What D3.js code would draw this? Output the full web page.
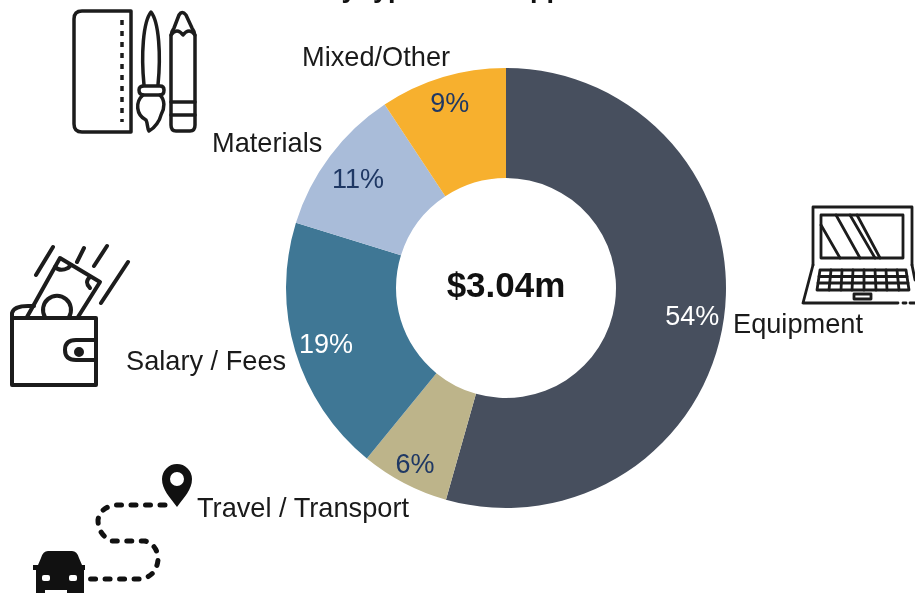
<!DOCTYPE html>
<html>
<head>
<meta charset="utf-8">
<script src="https://cdn.jsdelivr.net/npm/d3@7"></script>
<style>
  html, body { margin: 0; padding: 0; background: #fff; overflow: hidden; }
  svg { display: block; filter: blur(0.5px); font-family: "Liberation Sans", Arial, sans-serif; }
  .icon { fill: none; stroke: #1c1c1c; stroke-width: 3.5; stroke-linejoin: round; stroke-linecap: round; }
</style>
</head>
<body>
<script>
// chart values
var categories = ["Equipment", "Travel / Transport", "Salary / Fees", "Materials", "Mixed/Other"];
var shares = [54.4, 6.5, 18.9, 10.9, 9.3];
var pctLabels = ["54%", "6%", "19%", "11%", "9%"];
var total = "$3.04m";
var titleStart = "by type of";
var titleEnd = "support";

// look of the slices and labels
var colors = ["#474f5e", "#bdb48a", "#3f7795", "#a9bcd9", "#f7b02e"];
var pctColors = ["#ffffff", "#1f3864", "#ffffff", "#1f3864", "#1f3864"];
var pctRadius = [188, 197, 188, 185, 195];
var labelX = [733, 197, 126, 212, 302];
var labelY = [333, 517, 370, 152, 66];

var width = 915, height = 593;
var cx = 506, cy = 288, outer = 220, inner = 110;

var svg = d3.select("body").append("svg")
    .attr("width", width)
    .attr("height", height);

// title is cut off by the top of the picture, only the descenders show
var titleText = svg.append("text")
    .attr("x", 325)
    .attr("y", -3)
    .attr("font-size", 27)
    .attr("font-weight", "bold")
    .attr("fill", "#111");
titleText.append("tspan").text(titleStart);
titleText.append("tspan").attr("dx", 46).text(titleEnd);

// donut
var pie = d3.pie().sort(null).value(function(d) { return d; });
var arc = d3.arc().innerRadius(inner).outerRadius(outer);
var arcs = pie(shares);

var chart = svg.append("g")
    .attr("transform", "translate(" + cx + "," + cy + ")");

chart.selectAll(".slice")
    .data(arcs)
    .enter()
    .append("path")
    .classed("slice", true)
    .attr("d", arc)
    .attr("fill", function(d, i) { return colors[i]; });

chart.selectAll(".pct")
    .data(arcs)
    .enter()
    .append("text")
    .classed("pct", true)
    .attr("transform", function(d, i) {
        var c = d3.arc().innerRadius(pctRadius[i]).outerRadius(pctRadius[i]).centroid(d);
        return "translate(" + c[0] + "," + c[1] + ")";
    })
    .attr("dy", "0.4em")
    .attr("text-anchor", "middle")
    .attr("font-size", 27)
    .attr("fill", function(d, i) { return pctColors[i]; })
    .text(function(d, i) { return pctLabels[i]; });

chart.append("text")
    .attr("y", 9)
    .attr("x", 0)
    .attr("text-anchor", "middle")
    .attr("font-size", 35)
    .attr("font-weight", "bold")
    .attr("fill", "#111")
    .text(total);

// category labels
svg.selectAll(".cat")
    .data(categories)
    .enter()
    .append("text")
    .classed("cat", true)
    .attr("x", function(d, i) { return labelX[i]; })
    .attr("y", function(d, i) { return labelY[i]; })
    .attr("font-size", 27.2)
    .attr("fill", "#1a1a1a")
    .text(function(d) { return d; });

// ---- icons ----

// ruler, brush, pencil
var mat = svg.append("g").classed("icon", true);
mat.append("path").attr("d", "M131,11H82Q74,11 74,19V124Q74,132 82,132H131Z");
mat.append("path").attr("d", "M122,20V122").attr("stroke-dasharray", "5 6").style("stroke-linecap", "butt");
mat.append("path").attr("d", "M144,85C141,55 143,22 151,12C159,22 161,55 158,85");
mat.append("path").attr("d", "M144,86H160Q164,86 164,90Q164,95 160,95H144Q139,95 139,90Q139,86 144,86Z");
mat.append("path").attr("d", "M143,95C135,102 136,115 146,120C148,124 147,128 149,131C155,128 160,120 161,115C165,108 165,100 160,95");
mat.append("path").attr("d", "M171,125V36Q171,32 174,28L179,15Q182,10 186,15L192,28Q195,32 195,36V125Q195,131 190,131H176Q171,131 171,125Z");
mat.append("path").attr("d", "M171,35Q177,27 183,35Q189,27 195,35");
mat.append("path").attr("d", "M171,102H195M171,115H195");

// wallet with banknote
var wal = svg.append("g").classed("icon", true).style("stroke-width", 4);
wal.append("path").attr("d", "M12,318H96V385H12Z");
wal.append("path").attr("d", "M12,318V313Q14,306 28,306H34");
wal.append("path").attr("d", "M27,317L60,258L100,282L78,317");
wal.append("path").attr("d", "M45,317A14,14 0 1 1 69,317");
wal.append("path").attr("d", "M55,267Q60,272 68,268Q70,266 71,265");
wal.append("path").attr("d", "M90,277Q84,282 90,288");
wal.append("path").attr("d", "M96,340H76Q65,340 65,350Q65,360 76,360H96");
wal.append("circle").attr("cx", 79).attr("cy", 352).attr("r", 3).attr("fill", "#1c1c1c");
wal.append("path").attr("d", "M36,275L53,247M77,262L84,248M94,266L107,246M101,303L128,262");

// pin, dotted route, car
var trv = svg.append("g");
trv.append("path")
    .attr("fill", "#111")
    .attr("fill-rule", "evenodd")
    .attr("d", "M177,507C170,497 162,490 162,479A15,15 0 0 1 192,479C192,490 184,497 177,507ZM177,472A7,7 0 1 0 177,486A7,7 0 1 0 177,472Z");
trv.append("path")
    .attr("fill", "none")
    .attr("stroke", "#111")
    .attr("stroke-width", 5)
    .attr("stroke-linecap", "round")
    .attr("stroke-dasharray", "5 9.5")
    .attr("d", "M165,505H116Q100,507 98,520Q98,535 112,541H145Q158,545 158,560Q156,577 140,579H88");
trv.append("path")
    .attr("fill", "#111")
    .attr("d", "M48,551H72Q77,551 79,558L82,565H85V570H84V593H36V570H33V565H38L41,558Q43,551 48,551Z");
trv.append("rect").attr("x", 42).attr("y", 575).attr("width", 8).attr("height", 6).attr("rx", 2).attr("fill", "#fff");
trv.append("rect").attr("x", 69).attr("y", 575).attr("width", 8).attr("height", 6).attr("rx", 2).attr("fill", "#fff");
trv.append("rect").attr("x", 45).attr("y", 590).attr("width", 22).attr("height", 3).attr("fill", "#fff");

// laptop
var lap = svg.append("g").classed("icon", true).style("stroke-width", 2.8);
lap.append("path").attr("d", "M813,265V207H912V265");
lap.append("path").attr("d", "M821,215H903V258H821Z");
lap.append("path").attr("d", "M821,225L840,258M836,215L860,258M850,215L875,258M857,215L880,258");
lap.append("path").attr("d", "M813,265L803,303H898M903,303H906M910,303H915M912,265L915,280");
lap.append("path").attr("d", "M820,270H906L909,290H817Z");
lap.append("path").attr("d", "M819,276.5H907M818,283H908");
lap.append("path").attr("d", "M831,270L829,290M842,270L841,290M853,270L852,290M864,270L864,290M875,270L876,290M886,270L887,290M897,270L899,290");
lap.append("path").attr("d", "M854,294H871V299H854Z");
</script>
</body>
</html>
